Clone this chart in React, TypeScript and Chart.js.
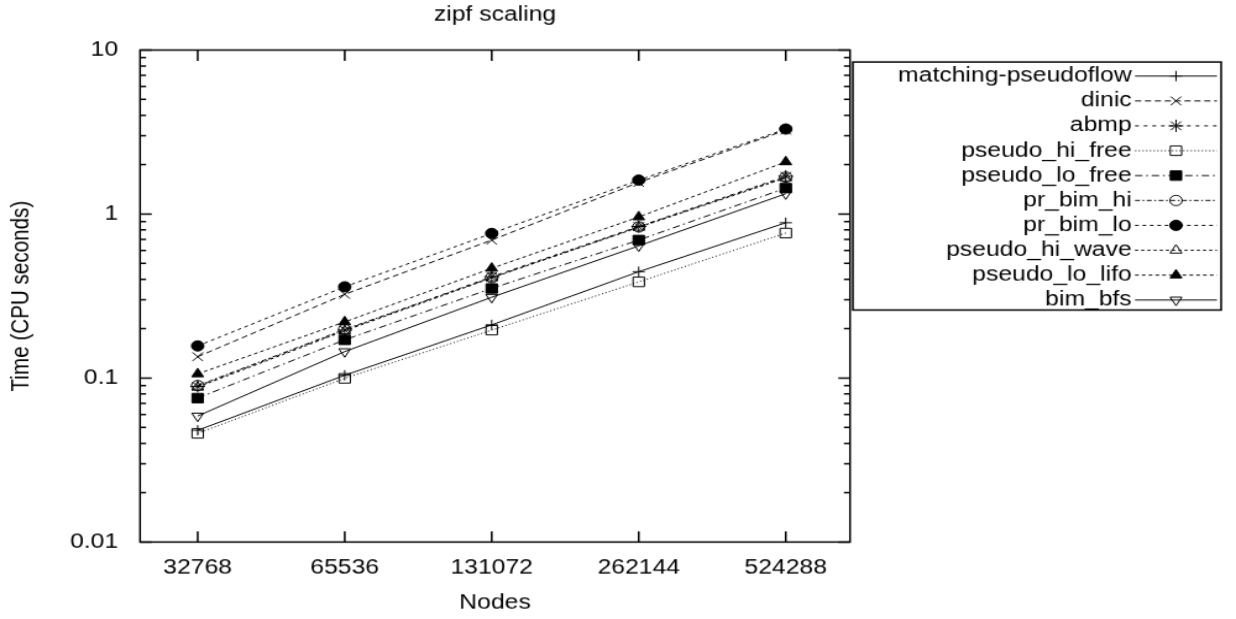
import React, { useEffect, useRef } from 'react';
import { Chart, registerables, PointElement } from 'chart.js';

Chart.register(...registerables);

// ---- data ----
const nodeLabels = ['32768', '65536', '131072', '262144', '524288'];
const yTickValues = [0.01, 0.1, 1, 10];
const yTickLabels = ['0.01', '0.1', '1', '10'];

const seriesNames = [
  'matching-pseudoflow',
  'dinic',
  'abmp',
  'pseudo_hi_free',
  'pseudo_lo_free',
  'pr_bim_hi',
  'pr_bim_lo',
  'pseudo_hi_wave',
  'pseudo_lo_lifo',
  'bim_bfs',
];

const matchingPseudoflow = [0.048, 0.104, 0.211, 0.445, 0.885];
const dinic = [0.135, 0.324, 0.694, 1.56, 3.25];
const abmp = [0.089, 0.196, 0.415, 0.84, 1.7];
const pseudoHiFree = [0.046, 0.0996, 0.196, 0.386, 0.766];
const pseudoLoFree = [0.0755, 0.171, 0.352, 0.694, 1.44];
const prBimHi = [0.09, 0.198, 0.41, 0.835, 1.68];
const prBimLo = [0.157, 0.36, 0.762, 1.61, 3.3];
const pseudoHiWave = [0.088, 0.194, 0.408, 0.83, 1.66];
const pseudoLoLifo = [0.106, 0.22, 0.467, 0.96, 2.08];
const bimBfs = [0.0587, 0.145, 0.311, 0.64, 1.33];

const seriesValues = [
  matchingPseudoflow,
  dinic,
  abmp,
  pseudoHiFree,
  pseudoLoFree,
  prBimHi,
  prBimLo,
  pseudoHiWave,
  pseudoLoLifo,
  bimBfs,
];

// ---- styles ----
const FONT = '"Liberation Sans", Arial, Helvetica, sans-serif';
const INK = '#000000';
const NONE = 'rgba(0,0,0,0)';
const FRAME_W = 1.5;

type Style = { dash: number[]; point: string; radius: number; fill: string; rot?: number };
const styles: Style[] = [
  { dash: [], point: 'cross', radius: 5, fill: NONE },
  { dash: [5, 3], point: 'crossRot', radius: 6, fill: NONE },
  { dash: [3, 4], point: 'star', radius: 6, fill: NONE },
  { dash: [1, 2], point: 'rect', radius: 6.5, fill: NONE },
  { dash: [6, 3, 1.5, 3], point: 'rect', radius: 6.5, fill: INK },
  { dash: [4, 2, 1.5, 2], point: 'circle', radius: 5, fill: NONE },
  { dash: [3, 3], point: 'circle', radius: 5, fill: INK },
  { dash: [2.5, 2.5], point: 'triangle', radius: 5.5, fill: NONE },
  { dash: [3, 2.5], point: 'triangle', radius: 5.5, fill: INK },
  { dash: [], point: 'triangle', radius: 5.5, fill: NONE, rot: 180 },
];

// internal canvas size (stretched by CSS to the 1236x619 window)
const CW = 1000;
const CH = 600;

const framePlugin = {
  id: 'gnuFrame',
  afterDatasetsDraw(chart: any) {
    const { ctx, chartArea } = chart;
    const { left, right, top, bottom } = chartArea;
    const xs = chart.scales.x;
    const ys = chart.scales.y;
    ctx.save();
    ctx.strokeStyle = INK;
    ctx.lineWidth = FRAME_W;
    ctx.setLineDash([]);
    ctx.strokeRect(left, top, right - left, bottom - top);
    ctx.beginPath();
    // y ticks (major + minor), mirrored
    for (let d = 0; d < yTickValues.length; d++) {
      const base = yTickValues[d];
      const py = ys.getPixelForValue(base);
      ctx.moveTo(left, py); ctx.lineTo(left + 9.5, py);
      ctx.moveTo(right, py); ctx.lineTo(right - 9.5, py);
      if (d < yTickValues.length - 1) {
        for (let m = 2; m <= 9; m++) {
          const pm = ys.getPixelForValue(base * m);
          ctx.moveTo(left, pm); ctx.lineTo(left + 4.9, pm);
          ctx.moveTo(right, pm); ctx.lineTo(right - 4.9, pm);
        }
      }
    }
    // x ticks, mirrored
    for (let i = 0; i < nodeLabels.length; i++) {
      const px = xs.getPixelForValue(i);
      ctx.moveTo(px, bottom); ctx.lineTo(px, bottom - 10.5);
      ctx.moveTo(px, top); ctx.lineTo(px, top + 10.5);
    }
    ctx.stroke();
    ctx.restore();
  },
};

const legendPlugin = {
  id: 'gnuLegend',
  afterDraw(chart: any) {
    const { ctx } = chart;
    const boxL = 690, boxR = 988, boxT = 60.1, boxB = 300.5;
    const textRight = 915.6, lineL = 918.3, lineR = 984.6;
    const rowY0 = 73.7, rowStep = 24.12;
    ctx.save();
    ctx.strokeStyle = INK;
    ctx.lineWidth = FRAME_W;
    ctx.setLineDash([]);
    ctx.strokeRect(boxL, boxT, boxR - boxL, boxB - boxT);
    ctx.font = `20px ${FONT}`;
    ctx.fillStyle = INK;
    ctx.textAlign = 'right';
    ctx.textBaseline = 'middle';
    chart.data.datasets.forEach((ds: any, i: number) => {
      const y = rowY0 + i * rowStep;
      ctx.fillStyle = INK;
      ctx.fillText(ds.label, textRight, y);
      ctx.beginPath();
      ctx.setLineDash(ds.borderDash || []);
      ctx.strokeStyle = INK;
      ctx.lineWidth = 1;
      ctx.moveTo(lineL, y);
      ctx.lineTo(lineR, y);
      ctx.stroke();
      ctx.setLineDash([]);
      const meta = chart.getDatasetMeta(i);
      const src = meta.data[0];
      if (src) {
        const p: any = new PointElement({});
        p.x = (lineL + lineR) / 2;
        p.y = y;
        p.options = src.options;
        p.skip = false;
        ctx.save();
        p.draw(ctx);
        ctx.restore();
      }
    });
    ctx.restore();
  },
};

function buildConfig(): any {
  const datasets = seriesNames.map((name, i) => {
    const s = styles[i];
    return {
      label: name,
      data: seriesValues[i].map((v, j) => ({ x: j, y: v })),
      borderColor: INK,
      borderWidth: 1,
      borderDash: s.dash,
      backgroundColor: s.fill,
      pointStyle: s.point,
      pointRadius: s.radius,
      pointRotation: s.rot || 0,
      pointBorderColor: INK,
      pointBackgroundColor: s.fill,
      pointBorderWidth: 1,
      fill: false,
      tension: 0,
      order: seriesNames.length - i,
    };
  });

  return {
    type: 'line',
    data: { datasets },
    options: {
      animation: false,
      responsive: false,
      devicePixelRatio: 1,
      events: [],
      layout: { padding: { left: 0, right: CW - 687.7, top: 0, bottom: 0 } },
      plugins: {
        legend: { display: false },
        tooltip: { enabled: false },
        title: {
          display: true,
          text: 'zipf scaling',
          fullSize: false,
          color: INK,
          font: { family: FONT, size: 20, weight: 'normal', lineHeight: 1.2 },
          padding: { top: 2.5, bottom: 22 },
        },
      },
      scales: {
        x: {
          type: 'linear',
          min: -0.392,
          max: 4.437,
          bounds: 'data',
          grid: { display: false },
          border: { display: false },
          ticks: {
            autoSkip: false,
            maxRotation: 0,
            minRotation: 0,
            padding: 5.4,
            color: INK,
            font: { family: FONT, size: 20, lineHeight: 1.2 },
            callback: (_v: any, idx: number) => nodeLabels[idx],
          },
          afterBuildTicks: (scale: any) => {
            scale.ticks = nodeLabels.map((_l, i) => ({ value: i }));
          },
          afterFit: (scale: any) => {
            scale.height = CH - 525.4;
          },
          title: {
            display: true,
            text: 'Nodes',
            color: INK,
            font: { family: FONT, size: 20, lineHeight: 1.2 },
            padding: { top: 0, bottom: 3.5 },
          },
        },
        y: {
          type: 'logarithmic',
          min: 0.01,
          max: 10,
          grid: { display: false },
          border: { display: false },
          ticks: {
            autoSkip: false,
            padding: 9.7,
            color: INK,
            font: { family: FONT, size: 20, lineHeight: 1.2 },
            callback: (_v: any, idx: number) => yTickLabels[idx],
          },
          afterBuildTicks: (scale: any) => {
            scale.ticks = yTickValues.map((v) => ({ value: v }));
          },
          afterFit: (scale: any) => {
            scale.width = 113.3;
          },
          title: {
            display: true,
            text: 'Time (CPU seconds)',
            color: INK,
            font: { family: FONT, size: 20, lineHeight: 1.2 },
            padding: { top: 5.8, bottom: 0 },
          },
        },
      },
    },
    plugins: [framePlugin, legendPlugin],
  };
}

export default function App() {
  const ref = useRef<HTMLCanvasElement>(null);
  useEffect(() => {
    const canvas = ref.current;
    if (!canvas) return;
    const chart = new Chart(canvas, buildConfig());
    return () => chart.destroy();
  }, []);
  return (
    <div
      style={{
        position: 'fixed',
        left: 0,
        top: 0,
        width: '1236px',
        height: '619px',
        background: '#ffffff',
      }}
    >
      <canvas
        ref={ref}
        width={CW}
        height={CH}
        style={{ width: '1236px', height: '619px', display: 'block' }}
      />
    </div>
  );
}
